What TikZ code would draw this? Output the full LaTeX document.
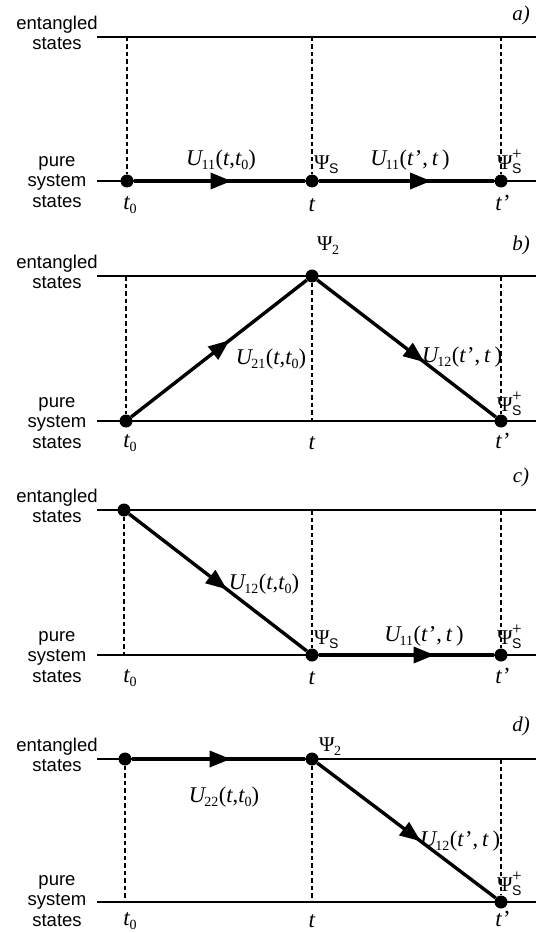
\documentclass[tikz,border=0pt]{standalone}
\usepackage{fontspec}
\setmainfont{Liberation Serif}
\setsansfont{Liberation Sans}
\usetikzlibrary{arrows.meta,decorations.markings}
\newcommand\subx[1]{\raisebox{-0.4ex}{\fontsize{14}{14}\selectfont #1}}
\newcommand\Ulab[2]{\textit{U}\kern-2pt\subx{#1}\kern0.5pt(#2)}
\newcommand\tz{\textit{t}\kern-0.5pt\subx{0}}
\newcommand\tp{\textit{t}\kern1pt'}
\newcommand\PsiS{Ψ\kern-0.5pt\raisebox{-0.4ex}{\fontsize{14}{14}\selectfont\textsf{S}}}
\newcommand\PsiSp{Ψ\kern-0.5pt\rlap{\raisebox{-0.4ex}{\fontsize{14}{14}\selectfont\textsf{S}}}\raisebox{1.0ex}{\fontsize{17}{17}\selectfont +}}
\newcommand\PsiTwo{Ψ\kern-0.5pt\raisebox{-0.4ex}{\fontsize{14}{14}\selectfont 2}}
\tikzset{
 level/.style={line width=1.8pt},
 guide/.style={line width=1.1pt, dash pattern=on 4.5pt off 3pt},
 dot/.style={circle, fill=black, inner sep=0pt, minimum size=13pt},
 flow/.style={line width=3.4pt, decoration={markings, mark=at position #1 with {\arrow{Triangle[length=21pt,width=16pt]}}}, postaction={decorate}},
 flow/.default=0.6,
 side/.style={font=\sffamily\fontsize{18.5}{20.5}\selectfont, align=center, inner sep=0pt},
 lbl/.style={font=\fontsize{22.5}{24}\selectfont, inner sep=0pt},
 tlab/.style={font=\fontsize{23}{24}\selectfont, inner sep=0pt},
 psi/.style={font=\fontsize{21}{23}\selectfont, inner sep=0pt},
 tag/.style={font=\itshape\fontsize{21}{23}\selectfont, inner sep=0pt},
}
\begin{document}
\begin{tikzpicture}[x=1pt,y=-1pt]
\useasboundingbox[fill=white] (0,0) rectangle (536,933);

% ---------------- panel a ----------------
\coordinate (aE0) at (97,37);  \coordinate (aE1) at (536,37);
\coordinate (aP0) at (97,181); \coordinate (aP1) at (536,181);
\draw[level] (aE0) -- (aE1);
\draw[level] (aP0) -- (aP1);
\coordinate (aG0) at (127,37); \coordinate (aG1) at (312,37); \coordinate (aG2) at (501,37);
\node[dot] (a0) at (127,181) {};
\node[dot] (a1) at (312,181) {};
\node[dot] (a2) at (501,181) {};
\draw[guide] (aG0) -- (a0);
\draw[guide] (aG1) -- (a1);
\draw[guide] (aG2) -- (a2);
\draw[flow=0.57] (a0) -- (a1);
\draw[flow=0.64] (a1) -- (a2);
\node[side] (aEnt) at (57,33) {entangled\\states};
\node[side] (aPure) at (57,182) {pure\\system\\states};
\node[tag] (aTag) at (521,15) {a)};
\node[lbl] (aU1) at (221,160) {\Ulab{11}{\textit{t},\tz}};
\node[lbl] (aU2) at (410,160) {\Ulab{11}{\tp,\,\textit{t}\,}};
\node[psi,anchor=west] (aPs) at (314,165) {\PsiS};
\node[psi,anchor=west] (aPsp) at (497,162) {\PsiSp};
\node[tlab] (aT0) at (130,205) {\tz};
\node[tlab] (aT1) at (312,205) {\textit{t}};
\node[tlab] (aT2) at (503,203) {\tp};

% ---------------- panel b ----------------
\coordinate (bE0) at (97,276);  \coordinate (bE1) at (536,276);
\coordinate (bP0) at (97,421); \coordinate (bP1) at (536,421);
\draw[level] (bE0) -- (bE1);
\draw[level] (bP0) -- (bP1);
\coordinate (bG0) at (126,276); \coordinate (bG2) at (501,276);
\node[dot] (b0) at (126,421) {};
\node[dot] (b1) at (312,276) {};
\node[dot] (b2) at (501,421) {};
\coordinate (bQ1) at (312,421);
\draw[guide] (bG0) -- (b0);
\draw[guide] (b1) -- (bQ1);
\draw[guide] (bG2) -- (b2);
\draw[flow=0.56] (b0) -- (b1);
\draw[flow=0.6] (b1) -- (b2);
\node[side] (bEnt) at (57,272) {entangled\\states};
\node[side] (bPure) at (57,423) {pure\\system\\states};
\node[tag] (bTag) at (521,245) {b)};
\node[psi] (bPs2) at (328,246) {\PsiTwo};
\node[lbl] (bU1) at (271,359) {\Ulab{21}{\textit{t},\tz}};
\node[lbl] (bU2) at (462,357) {\Ulab{12}{\tp,\,\textit{t}\,}};
\node[psi,anchor=west] (bPsp) at (497,404) {\PsiSp};
\node[tlab] (bT0) at (130,443) {\tz};
\node[tlab] (bT1) at (312,443) {\textit{t}};
\node[tlab] (bT2) at (503,441) {\tp};

% ---------------- panel c ----------------
\coordinate (cE0) at (97,510);  \coordinate (cE1) at (536,510);
\coordinate (cP0) at (97,655); \coordinate (cP1) at (536,655);
\draw[level] (cE0) -- (cE1);
\draw[level] (cP0) -- (cP1);
\coordinate (cG1) at (312,510); \coordinate (cG2) at (501,510);
\coordinate (cQ0) at (124,655);
\node[dot] (c0) at (124,510) {};
\node[dot] (c1) at (312,655) {};
\node[dot] (c2) at (501,655) {};
\draw[guide] (c0) -- (cQ0);
\draw[guide] (cG1) -- (c1);
\draw[guide] (cG2) -- (c2);
\draw[flow=0.55] (c0) -- (c1);
\draw[flow=0.66] (c1) -- (c2);
\node[side] (cEnt) at (57,506) {entangled\\states};
\node[side] (cPure) at (57,657) {pure\\system\\states};
\node[tag] (cTag) at (521,477) {c)};
\node[lbl] (cU1) at (264,584) {\Ulab{12}{\textit{t},\tz}};
\node[lbl] (cU2) at (424,636) {\Ulab{11}{\tp,\,\textit{t}\,}};
\node[psi,anchor=west] (cPs) at (314,640) {\PsiS};
\node[psi,anchor=west] (cPsp) at (497,637) {\PsiSp};
\node[tlab] (cT0) at (130,678) {\tz};
\node[tlab] (cT1) at (312,678) {\textit{t}};
\node[tlab] (cT2) at (503,676) {\tp};

% ---------------- panel d ----------------
\coordinate (dE0) at (97,759);  \coordinate (dE1) at (536,759);
\coordinate (dP0) at (97,902); \coordinate (dP1) at (536,902);
\draw[level] (dE0) -- (dE1);
\draw[level] (dP0) -- (dP1);
\coordinate (dG2) at (501,759);
\coordinate (dQ0) at (125,902); \coordinate (dQ1) at (312,902);
\node[dot] (d0) at (125,759) {};
\node[dot] (d1) at (312,759) {};
\node[dot] (d2) at (501,902) {};
\draw[guide] (d0) -- (dQ0);
\draw[guide] (d1) -- (dQ1);
\draw[guide] (dG2) -- (d2);
\draw[flow=0.57] (d0) -- (d1);
\draw[flow=0.58] (d1) -- (d2);
\node[side] (dEnt) at (57,755) {entangled\\states};
\node[side] (dPure) at (57,901) {pure\\system\\states};
\node[tag] (dTag) at (521,726) {d)};
\node[psi] (dPs2) at (330,747) {\PsiTwo};
\node[lbl] (dU1) at (224,797) {\Ulab{22}{\textit{t},\tz}};
\node[lbl] (dU2) at (460,841) {\Ulab{12}{\tp,\,\textit{t}\,}};
\node[psi,anchor=west] (dPsp) at (497,884) {\PsiSp};
\node[tlab] (dT0) at (130,921) {\tz};
\node[tlab] (dT1) at (312,921) {\textit{t}};
\node[tlab] (dT2) at (503,919) {\tp};
\end{tikzpicture}
\end{document}
